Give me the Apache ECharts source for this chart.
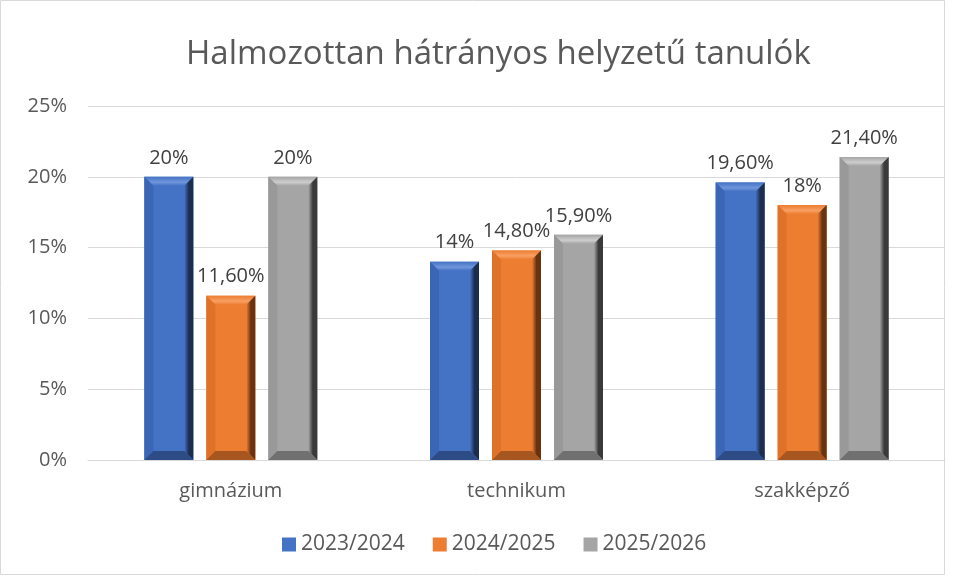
<!DOCTYPE html>
<html>
<head>
<meta charset="utf-8">
<script src="https://cdn.jsdelivr.net/npm/echarts@6/dist/echarts.min.js"></script>
<style>
  html, body { margin: 0; padding: 0; background: #fff; }
  #chart { width: 954px; height: 577px; }
</style>
</head>
<body>
<div id="chart"></div>
<script>
// tanévek és képzési típusok
const categories = ['gimnázium', 'technikum', 'szakképző'];
const years = ['2023/2024', '2024/2025', '2025/2026'];
const values2023 = [20, 14, 19.6];
const values2024 = [11.6, 14.8, 18];
const values2025 = [20, 15.9, 21.4];
const yTicks = [0, 5, 10, 15, 20, 25];

const seriesData = [values2023, values2024, values2025];

// oszlopok színei (elő, világos, sötét él)
const palettes = [
  { main: '#4472c4', light: '#7196dc', side: '#3b66b6', dark: '#1c2d50', bottom: '#2d4c86' },
  { main: '#ed7d31', light: '#f8a063', side: '#e07128', dark: '#6a3310', bottom: '#a8561f' },
  { main: '#a5a5a5', light: '#cdcdcd', side: '#999999', dark: '#3a3a3a', bottom: '#707070' }
];

const BAR_W = 49;
const BAR_GAP = 13;
const BEVEL = 9;

function fmt(v) {
  if (Number.isInteger(v)) return v + '%';
  return v.toFixed(2).replace('.', ',') + '%';
}

function makeRender(idx) {
  const p = palettes[idx];
  return function (params, api) {
    const cat = api.value(0);
    const val = api.value(1);
    const base = api.coord([cat, 0]);
    const topPt = api.coord([cat, val]);
    const cx = base[0] + (idx - 1) * (BAR_W + BAR_GAP);
    const x0 = cx - BAR_W / 2, x1 = cx + BAR_W / 2;
    const y0 = topPt[1], y1 = base[1];
    const b = Math.min(BEVEL, (y1 - y0) / 2);
    return {
      type: 'group',
      children: [
        { type: 'rect', shape: { x: x0, y: y0, width: BAR_W, height: y1 - y0 },
          style: { fill: p.main } },
        { type: 'polygon', shape: { points: [[x0, y0], [x1, y0], [x1 - b, y0 + b], [x0 + b, y0 + b]] },
          style: { fill: new echarts.graphic.LinearGradient(0, 0, 0, 1, [
            { offset: 0, color: p.main }, { offset: 0.6, color: p.light }, { offset: 1, color: p.main }]) } },
        { type: 'polygon', shape: { points: [[x0, y0], [x0 + b, y0 + b], [x0 + b, y1 - b], [x0, y1]] },
          style: { fill: p.side } },
        { type: 'polygon', shape: { points: [[x1, y0], [x1, y1], [x1 - b, y1 - b], [x1 - b, y0 + b]] },
          style: { fill: new echarts.graphic.LinearGradient(0, 0, 1, 0, [
            { offset: 0, color: p.main }, { offset: 0.5, color: p.dark }, { offset: 1, color: p.dark }]) } },
        { type: 'polygon', shape: { points: [[x0, y1], [x0 + b, y1 - b], [x1 - b, y1 - b], [x1, y1]] },
          style: { fill: p.bottom } },
        { type: 'text', x: cx, y: y0 - 9,
          style: { text: fmt(val), align: 'center', verticalAlign: 'bottom',
            fontFamily: 'Open Sans', fontSize: 20, fill: '#404040' } }
      ]
    };
  };
}

const chart = echarts.init(document.getElementById('chart'));
chart.setOption({
  backgroundColor: '#fff',
  animation: false,
  title: {
    text: 'Halmozottan hátrányos helyzetű tanulók',
    left: 181,
    top: 33,
    textStyle: { fontFamily: 'Open Sans', fontSize: 33, fontWeight: 'normal', color: '#595959' }
  },
  legend: {
    bottom: 17,
    left: 277,
    icon: 'rect',
    itemWidth: 14,
    itemHeight: 14,
    itemGap: 28,
    textStyle: { fontFamily: 'Open Sans', fontSize: 21, color: '#595959' },
    data: years
  },
  grid: { left: 88, right: 9, top: 106, bottom: 117 },
  xAxis: {
    type: 'category',
    data: categories,
    axisTick: { show: false },
    axisLine: { lineStyle: { color: '#d9d9d9', width: 1 } },
    axisLabel: { fontFamily: 'Open Sans', fontSize: 20, color: '#595959', margin: 21 }
  },
  yAxis: {
    type: 'value',
    min: yTicks[0],
    max: yTicks[yTicks.length - 1],
    interval: 5,
    axisLine: { show: false },
    axisTick: { show: false },
    splitLine: { lineStyle: { color: '#d9d9d9', width: 1 } },
    axisLabel: { fontFamily: 'Open Sans', fontSize: 20, color: '#595959', margin: 21, formatter: v => v + '%' }
  },
  series: years.map((name, i) => ({
    name: name,
    type: 'custom',
    renderItem: makeRender(i),
    encode: { x: 0, y: 1 },
    itemStyle: { color: palettes[i].main },
    data: seriesData[i].map((v, c) => [c, v])
  })),
  graphic: [{
    type: 'rect',
    shape: { x: 0.5, y: 0.5, width: 944, height: 574 },
    style: { fill: 'none', stroke: '#d9d9d9', lineWidth: 1 },
    silent: true
  }]
});
</script>
</body>
</html>
